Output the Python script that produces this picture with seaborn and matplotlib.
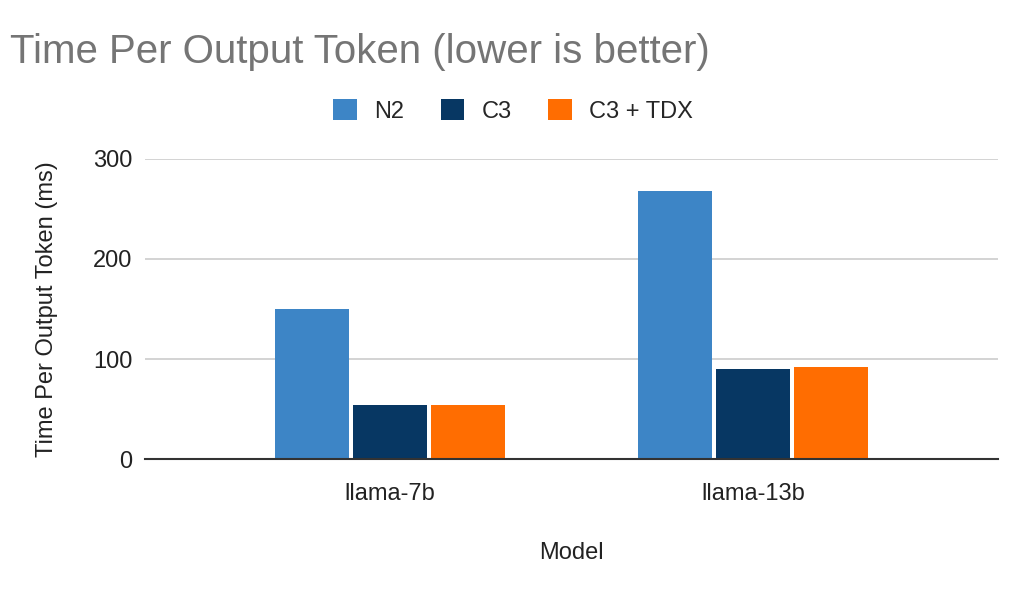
import matplotlib
matplotlib.use("Agg")
import matplotlib.pyplot as plt
import pandas as pd
import seaborn as sns
from matplotlib.patches import Patch

# values
models = ["llama-7b", "llama-13b"]
series = ["N2", "C3", "C3 + TDX"]
n2 = [150, 268]
c3 = [54, 90]
c3_tdx = [54, 92]
colors = ["#3d85c6", "#073763", "#ff6d01"]
yticks = [0, 100, 200, 300]

df = pd.DataFrame({
    "Model": models * 3,
    "Config": [s for s in series for _ in models],
    "TPOT": n2 + c3 + c3_tdx,
})

sns.set_theme(style="white")
plt.rcParams["font.family"] = ["Liberation Sans", "DejaVu Sans"]

fig = plt.figure(figsize=(10.28, 5.92), dpi=100)
ax = fig.add_axes([145 / 1028, 1 - 459 / 592, (998 - 145) / 1028, (459 - 159) / 592])

sns.barplot(data=df, x="Model", y="TPOT", hue="Config", hue_order=series,
            palette=colors, width=0.643, gap=0.05, ax=ax, saturation=1,
            legend=False, linewidth=0)

ax.set_xlim(-0.675, 1.675)
ax.set_ylim(0, 300)
ax.set_yticks(yticks)
ax.yaxis.grid(True, color="#cccccc", linewidth=1.2)
ax.set_axisbelow(True)
for s in ["top", "right", "left"]:
    ax.spines[s].set_visible(False)
ax.spines["bottom"].set_color("#333333")
ax.spines["bottom"].set_linewidth(1.5)
ax.tick_params(axis="both", length=0, labelsize=17, colors="#222222")
ax.tick_params(axis="y", pad=9)
ax.tick_params(axis="x", pad=17)

ax.set_ylabel("Time Per Output Token (ms)", fontsize=17, color="#222222", labelpad=25)
ax.set_xlabel("Model", fontsize=17, color="#222222", labelpad=27)

fig.text(10 / 1028, 1 - 52 / 592, "Time Per Output Token (lower is better)",
         fontsize=29, color="#757575", va="center", ha="left")

handles = [Patch(facecolor=c, edgecolor="none") for c in colors]
fig.legend(handles, series, loc="center", bbox_to_anchor=(513 / 1028, 1 - 111 / 592),
           ncol=3, frameon=False, fontsize=17, handlelength=1.0, handleheight=1.0,
           columnspacing=1.55, handletextpad=0.72)

fig.savefig("out.png", dpi=100)
